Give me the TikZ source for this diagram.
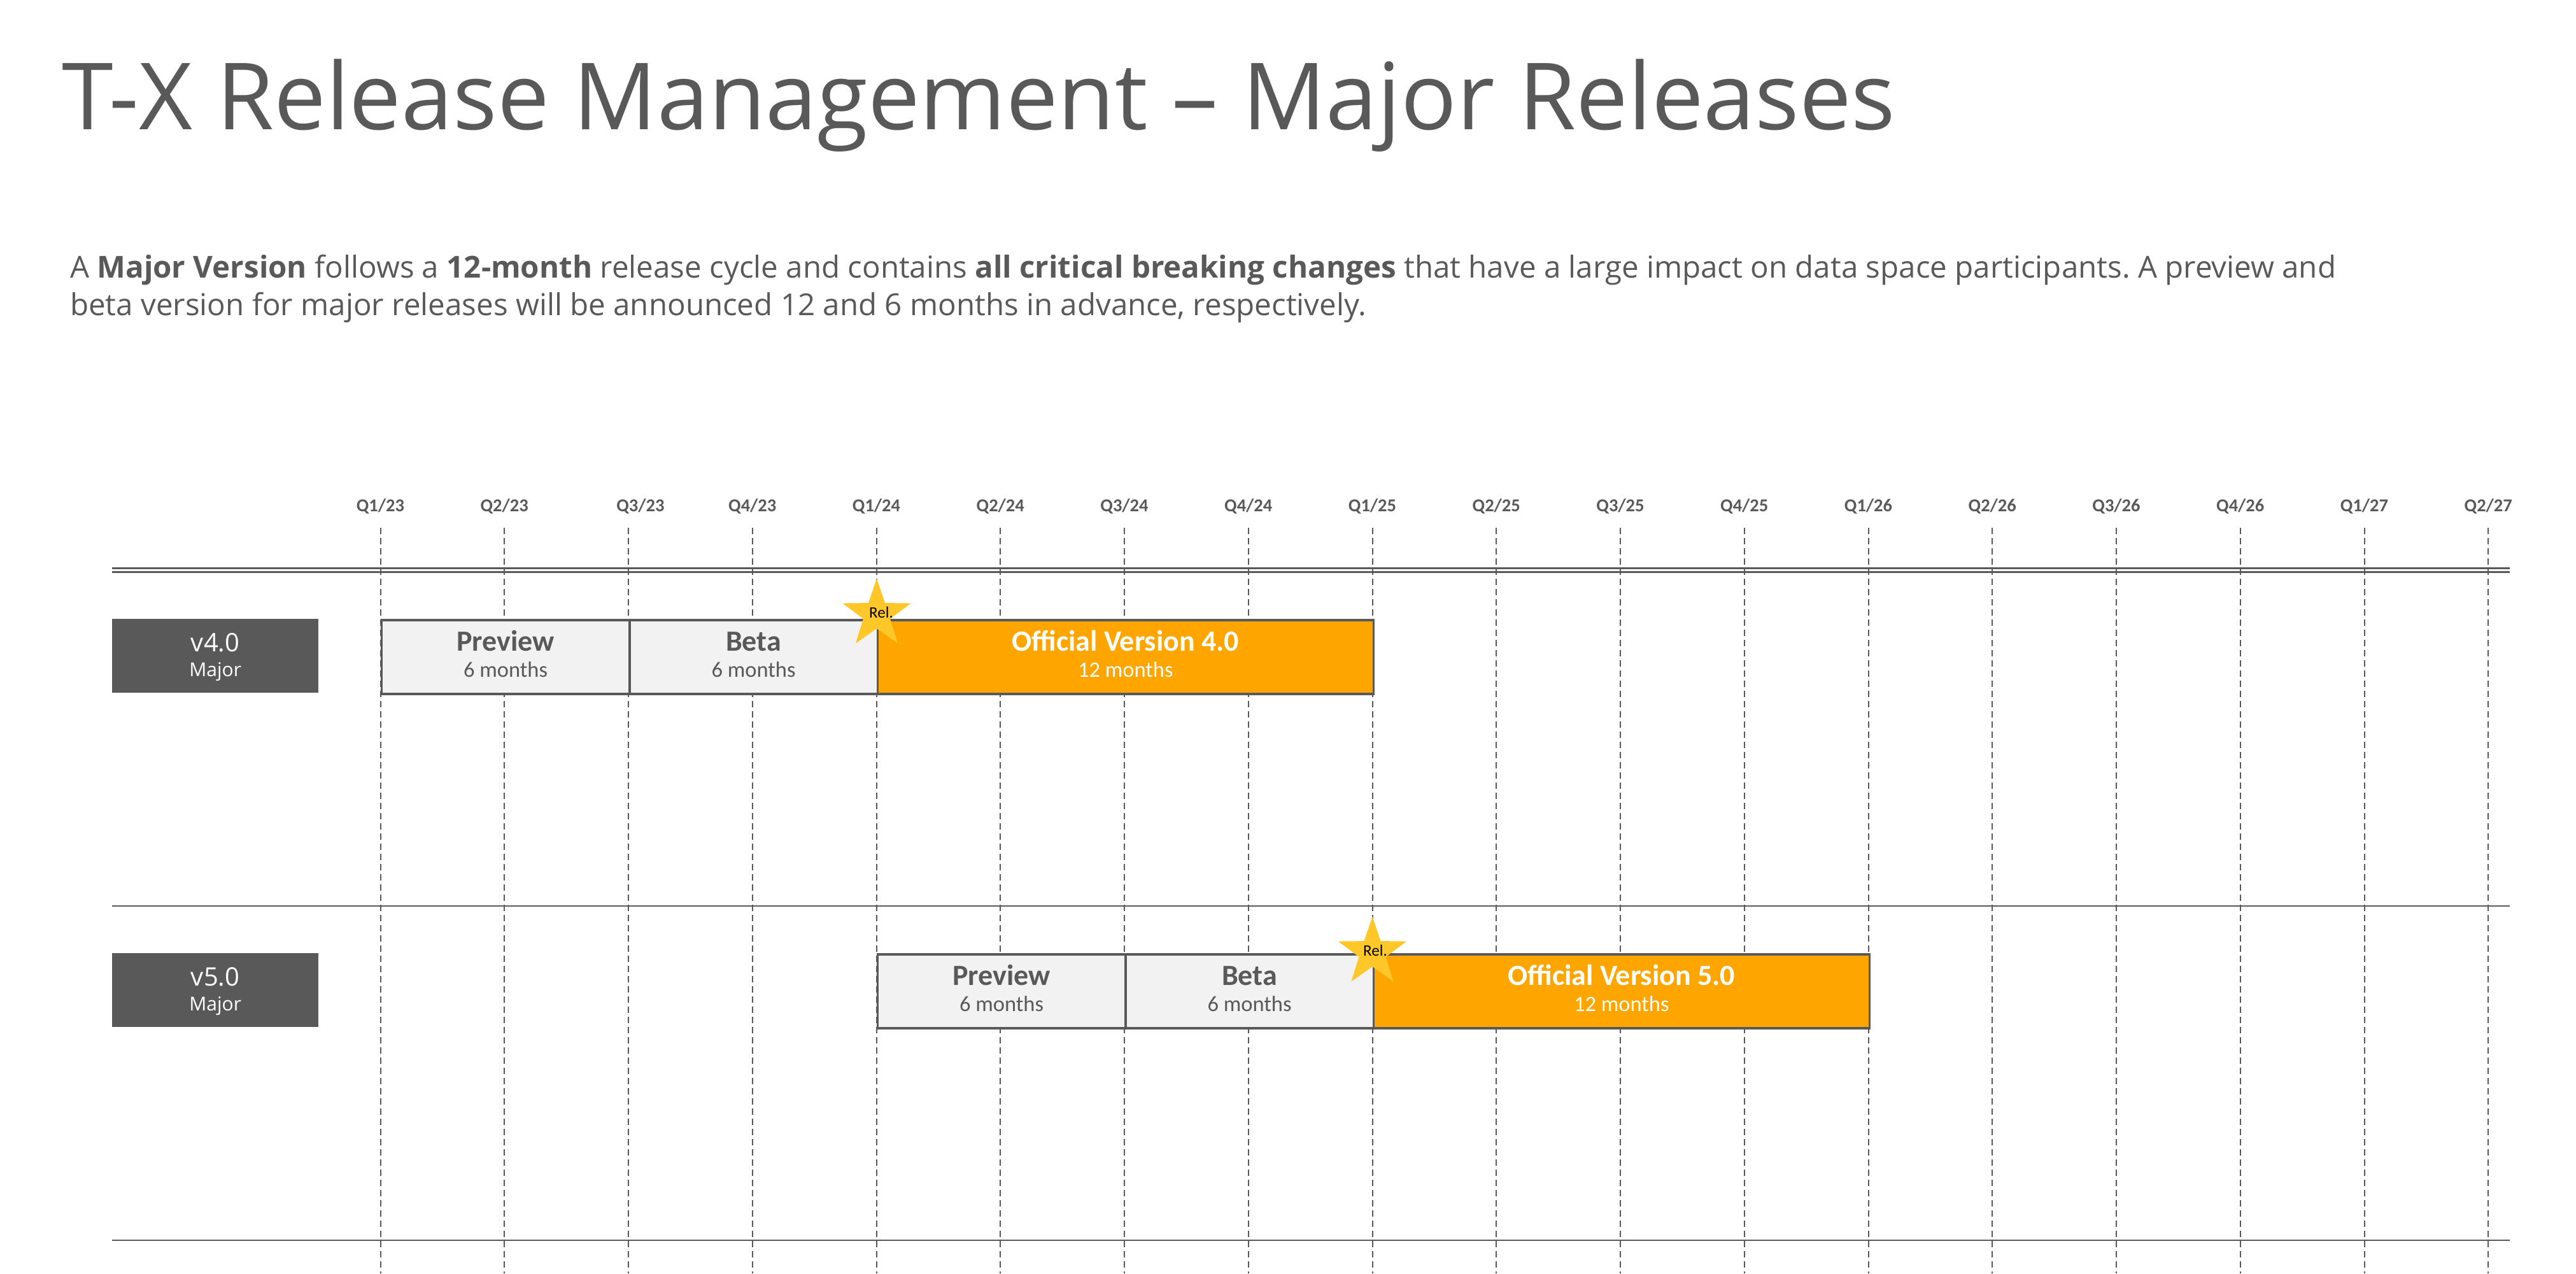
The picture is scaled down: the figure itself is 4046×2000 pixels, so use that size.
\documentclass[tikz,border=0pt]{standalone}
\usepackage{fontspec}
\setmainfont{Open Sans}
\newfontfamily\calib{Carlito}
\usetikzlibrary{shapes.geometric}
\definecolor{dgray}{HTML}{595959}
\definecolor{lgray}{HTML}{F2F2F2}
\definecolor{orng}{HTML}{FFA500}
\definecolor{gold}{HTML}{FFC828}
\frenchspacing
\tikzset{
  gridline/.style={draw=dgray, line width=2pt, dash pattern=on 10pt off 6pt},
  hline/.style={draw=dgray, line width=2.5pt},
  phase/.style={draw=dgray, line width=3.5pt, fill=lgray, minimum height=116pt, inner sep=0, anchor=north west},
  offic/.style={phase, fill=orng},
  verbox/.style={fill=dgray, minimum width=324pt, minimum height=116pt, inner sep=0, anchor=north west},
  qlab/.style={anchor=base, inner sep=0, text=dgray, font=\calib\bfseries\fontsize{28.5}{32}\selectfont},
  ptitle/.style={anchor=base, inner sep=0, text=dgray, font=\calib\bfseries\fontsize{46}{50}\selectfont},
  psub/.style={anchor=base, inner sep=0, text=dgray, font=\calib\fontsize{34.5}{40}\selectfont},
  otitle/.style={ptitle, text=white},
  osub/.style={psub, text=white},
  vname/.style={anchor=base, inner sep=0, text=white, font=\fontsize{40}{46}\selectfont},
  vkind/.style={anchor=base, inner sep=0, text=white, font=\fontsize{30}{36}\selectfont},
  relstar/.style={star, star points=5, star point ratio=2.55, minimum size=113pt, inner sep=0, fill=gold},
  reltext/.style={inner sep=0, text=black, font=\calib\fontsize{25}{28}\selectfont},
  bodytext/.style={anchor=base west, inner sep=0, text=dgray, font=\fontsize{47.5}{59}\selectfont}
}
\begin{document}
\begin{tikzpicture}[x=1pt,y=-1pt]
\useasboundingbox (0,0) rectangle (4046,2000);
% title and description
\node[anchor=base west, inner sep=0, text=dgray, font=\fontsize{145.6}{170}\selectfont] (title) at (97,203) {T-X Release Management – Major Releases};
\node[bodytext] (body1) at (110,436) {A \textbf{Major Version} follows a \textbf{12-month} release cycle and contains \textbf{all critical breaking changes} that have a large impact on data space participants. A preview and};
\node[bodytext] (body2) at (110,495) {beta version for major releases will be announced 12 and 6 months in advance, respectively.};
% grid
\foreach \i in {0,...,17}
  \draw[gridline] (597.5+194.75*\i,829) -- (597.5+194.75*\i,2000);
\foreach \lab [count=\i from 0] in {Q1/23,Q2/23,Q3/23,Q4/23,Q1/24,Q2/24,Q3/24,Q4/24,Q1/25,Q2/25,Q3/25,Q4/25,Q1/26,Q2/26,Q3/26,Q4/26,Q1/27,Q2/27}{
  \pgfmathsetmacro\xx{597.5+194.75*\i+(\i==2)*19}
  \node[qlab] (q\i) at (\xx,803) {\lab};
}
\draw[hline] (176,892.5) -- (3942,892.5);
\draw[hline] (176,898.5) -- (3942,898.5);
\draw[hline] (176,1423) -- (3942,1423);
\draw[hline] (176,1948) -- (3942,1948);
% row 1
\node[verbox] (v4) at (176,972) {};
\node[vname] at ([yshift=-51pt]v4.north) {v4.0};
\node[vkind] at ([yshift=-90pt]v4.north) {Major};
\node[phase, minimum width=389.5pt] (pv1) at (597.5,972) {};
\node[phase, minimum width=389.5pt] (bt1) at (987,972) {};
\node[offic, minimum width=779pt] (of1) at (1376.5,972) {};
\node[ptitle] at ([yshift=-50pt]pv1.north) {Preview};
\node[psub] at ([yshift=-91pt]pv1.north) {6 months};
\node[ptitle] at ([yshift=-50pt]bt1.north) {Beta};
\node[psub] at ([yshift=-91pt]bt1.north) {6 months};
\node[otitle] at ([yshift=-50pt]of1.north) {Official Version 4.0};
\node[osub] at ([yshift=-91pt]of1.north) {12 months};
\node[relstar] (s1) at (1377,965) {};
\node[reltext] (r1) at (1384,962) {Rel.};
% row 2
\node[verbox] (v5) at (176,1497) {};
\node[vname] at ([yshift=-51pt]v5.north) {v5.0};
\node[vkind] at ([yshift=-90pt]v5.north) {Major};
\node[phase, minimum width=389.5pt] (pv2) at (1376.5,1497) {};
\node[phase, minimum width=389.5pt] (bt2) at (1766,1497) {};
\node[offic, minimum width=779pt] (of2) at (2155.5,1497) {};
\node[ptitle] at ([yshift=-50pt]pv2.north) {Preview};
\node[psub] at ([yshift=-91pt]pv2.north) {6 months};
\node[ptitle] at ([yshift=-50pt]bt2.north) {Beta};
\node[psub] at ([yshift=-91pt]bt2.north) {6 months};
\node[otitle] at ([yshift=-50pt]of2.north) {Official Version 5.0};
\node[osub] at ([yshift=-91pt]of2.north) {12 months};
\node[relstar] (s2) at (2155.5,1496) {};
\node[reltext] (r2) at (2160,1493) {Rel.};
\end{tikzpicture}
\end{document}
